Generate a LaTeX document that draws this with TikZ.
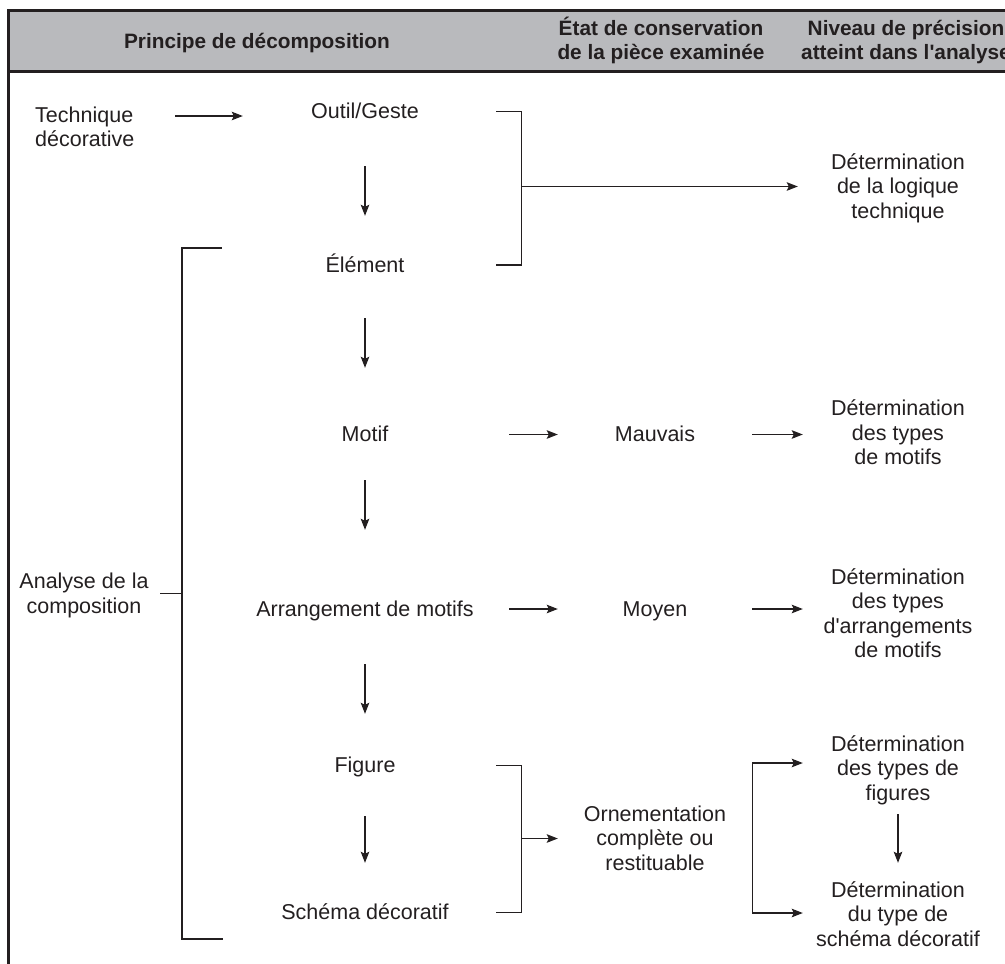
\documentclass[tikz,border=0pt]{standalone}
\usepackage{fontspec}
\setmainfont{Liberation Sans}
\usetikzlibrary{arrows.meta}
\definecolor{ink}{HTML}{231F20}
\definecolor{hdrgray}{HTML}{B9BABD}
\newcommand\dfbody{\fontsize{21.5}{24.5}\selectfont\lineskiplimit=-50pt\relax}
\newcommand\dfhead{\fontsize{20.8}{23.5}\selectfont\bfseries\lineskiplimit=-50pt\relax}
\newcommand\zs{\rule[-5pt]{0pt}{24pt}}
\tikzset{
  txt/.style={inner sep=0pt, text=ink, font=\dfbody, align=center},
  ctr/.style={txt, minimum width=244pt},
  mid/.style={txt, minimum width=194pt},
  rgt/.style={txt, minimum width=190pt},
  hdr/.style={inner sep=0pt, text=ink, font=\dfhead, align=center},
  ln/.style={draw=ink, line width=1.3pt},
  arr/.style={ln, -{Stealth[length=11pt,width=8.5pt,inset=2pt]}},
  frame/.style={draw=ink, line width=2.8pt},
}
\begin{document}
\begin{tikzpicture}[x=1pt,y=-1pt]
\useasboundingbox (0,0) rectangle (1005,964);
% header band and frame
\fill[hdrgray] (8.5,10.5) rectangle (1012,71.5);
\draw[frame] (1012,10.5) -- (8.5,10.5) -- (8.5,972);
\draw[frame] (8.5,71.5) -- (1012,71.5);
\node[hdr] (h1) at (257,41.5) {\zs Principe de décomposition};
\node[hdr] (h2) at (661,40.25) {\zs État de conservation\\\zs de la pièce examinée};
\node[hdr] (h3) at (906,40.25) {\zs Niveau de précision\\\zs atteint dans l\textquotesingle analyse};
% left column
\node[txt, align=left, anchor=west] (tech) at (35,127.25) {\zs Technique\\\zs décorative};
\node[txt] (analyse) at (84,593.75) {\zs Analyse de la\\\zs composition};
% central column
\node[ctr] (outil) at (365,111.5) {\zs Outil/Geste};
\node[ctr] (element) at (365,265) {\zs Élément};
\node[ctr] (motif) at (365,434.5) {\zs Motif};
\node[ctr] (arrang) at (365,609) {\zs Arrangement de motifs};
\node[ctr] (figure) at (365,765.5) {\zs Figure};
\node[ctr] (schema) at (365,912.5) {\zs Schéma décoratif};
% middle column
\node[mid] (mauvais) at (655,434.5) {\zs Mauvais};
\node[mid] (moyen) at (655,609) {\zs Moyen};
\node[mid] (ornem) at (655,838.5) {\zs Ornementation\\\zs complète ou\\\zs restituable};
% right column
\node[rgt] (r1) at (898,186.5) {\zs Détermination\\\zs de la logique\\\zs technique};
\node[rgt] (r2) at (898,433) {\zs Détermination\\\zs des types\\\zs de motifs};
\node[rgt] (r3) at (898,614) {\zs Détermination\\\zs des types\\\zs d\textquotesingle arrangements\\\zs de motifs};
\node[rgt] (r4) at (898,768.5) {\zs Détermination\\\zs des types de\\\zs figures};
\node[rgt] (r5) at (898,914.5) {\zs Détermination\\\zs du type de\\\zs schéma décoratif};
% connectors
\coordinate (ta) at ([yshift=11.25pt]tech.east);
\draw[arr, shorten <=40.6pt] (ta) -- (ta -| outil.west);
\draw[ln] (outil.east) ++(9,0) -- ++(25,0) |- ([xshift=9pt]element.east);
\coordinate (bk1) at ([xshift=34pt]outil.east);
\draw[arr, shorten >=5pt] (bk1 |- r1.west) -- (r1.west);
\draw[arr, shorten <=42.5pt, shorten >=37pt] (outil) -- (element);
\draw[arr, shorten <=41pt, shorten >=54.5pt] (element) -- (motif);
\draw[arr, shorten <=33.5pt, shorten >=67pt] (motif) -- (arrang);
\draw[arr, shorten <=43pt, shorten >=39.5pt] (arrang) -- (figure);
\draw[arr, shorten <=38.5pt, shorten >=37.5pt] (figure) -- (schema);
\draw[arr, shorten <=22pt] (motif.east) -- (mauvais.west);
\draw[arr] (mauvais.east) -- (mauvais.east -| r2.west);
\draw[arr, shorten <=22pt] (arrang.east) -- (moyen.west);
\draw[arr] (moyen.east) -- (moyen.east -| r3.west);
\draw[ln] (figure.east) ++(9,0) -- ++(25,0) |- ([xshift=9pt]schema.east);
\coordinate (bk2) at ([xshift=34pt]figure.east);
\draw[arr] (bk2 |- ornem.west) -- (ornem.west);
\draw[arr] (ornem.east) |- ([yshift=5.5pt]r4.west);
\draw[arr] (ornem.east) |- ([yshift=1.5pt]r5.west);
\draw[arr, shorten <=9pt, shorten >=15pt] (r4) -- (r5);
% left bracket
\coordinate (lbt) at (182,248);
\coordinate (lbb) at (182,939);
\draw[ln] (lbt -| element.west) ++(-21,0) -- (lbt) -- (lbb) -- ++(41,0);
\draw[ln, shorten <=11.5pt] (analyse.east) -- (analyse.east -| lbt);
\end{tikzpicture}
\end{document}
